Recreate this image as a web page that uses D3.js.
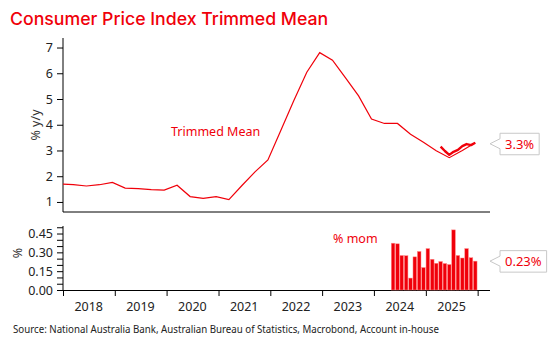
<!DOCTYPE html>
<html>
<head>
<meta charset="utf-8">
<script src="https://cdn.jsdelivr.net/npm/d3@7"></script>
<style>
  body { margin: 0; background: #fff; }
  svg text { font-family: "Noto Sans", sans-serif; }
</style>
</head>
<body>
<div id="viz"></div>
<script>
// Quarterly trimmed mean, % y/y (quarter ending month)
const quarters = ["2017-12","2018-03","2018-06","2018-09","2018-12","2019-03","2019-06","2019-09","2019-12",
  "2020-03","2020-06","2020-09","2020-12","2021-03","2021-06","2021-09","2021-12",
  "2022-03","2022-06","2022-09","2022-12","2023-03","2023-06","2023-09","2023-12",
  "2024-03","2024-06","2024-09","2024-12","2025-03","2025-06","2025-09","2025-12"];
const trimmedQ = [1.70,1.67,1.62,1.67,1.76,1.54,1.52,1.48,1.46,
  1.65,1.21,1.14,1.21,1.09,1.64,2.17,2.63,
  3.77,4.93,6.04,6.80,6.51,5.82,5.12,4.22,
  4.05,4.05,3.63,3.32,2.99,2.72,3.00,3.30];

// Monthly trimmed mean, % y/y
const months = ["2025-04","2025-05","2025-06","2025-07","2025-08","2025-09","2025-10","2025-11","2025-12"];
const trimmedM = [3.15,2.98,2.83,2.95,3.02,3.17,3.25,3.21,3.30];

// Monthly trimmed mean, % m/m
const momMonths = ["2024-05","2024-06","2024-07","2024-08","2024-09","2024-10","2024-11","2024-12",
  "2025-01","2025-02","2025-03","2025-04","2025-05","2025-06","2025-07","2025-08","2025-09","2025-10","2025-11","2025-12"];
const momValues = [0.373,0.368,0.275,0.273,0.095,0.264,0.307,0.179,
  0.330,0.245,0.213,0.227,0.211,0.203,0.479,0.275,0.255,0.330,0.257,0.23];

const years = [2018,2019,2020,2021,2022,2023,2024,2025];
const topTicks = [1,2,3,4,5,6,7];
const bottomTicks = [0,0.15,0.30,0.45];
const lastTop = "3.3%";
const lastBottom = "0.23%";

const RED = "#f0000a";
const parse = s => { const [y, m] = s.split("-").map(Number); return new Date(y, m - 1, 15); };

const W = 550, H = 350;
const svg = d3.select("#viz").append("svg")
  .attr("width", W).attr("height", H);

const x = d3.scaleTime()
  .domain([new Date(2018, 0, 1), new Date(2026, 2, 29)])
  .range([63, 490]);
const yTop = d3.scaleLinear().domain([0.61, 7.37]).range([212, 38]);
const yBot = d3.scaleLinear().domain([0, 0.51]).range([290, 226]);

// title
svg.append("text")
  .attr("x", 10).attr("y", 25)
  .style("font-family", "Inter, sans-serif")
  .style("font-weight", 500)
  .style("font-size", "17.7px")
  .attr("fill", RED)
  .text("Consumer Price Index Trimmed Mean");

// top panel axes
const gTop = svg.append("g").attr("transform", "translate(63,0)")
  .call(d3.axisLeft(yTop).tickValues(topTicks).tickSize(6).tickPadding(4).tickFormat(d3.format("d")));
gTop.select(".domain").remove();
gTop.selectAll("text").style("font-size", "12.5px").attr("fill", "#222");
gTop.selectAll("line").attr("stroke", "#000");
svg.append("line").attr("x1", 63).attr("x2", 63).attr("y1", 38).attr("y2", 212).attr("stroke", "#000");
svg.append("line").attr("x1", 63).attr("x2", 490).attr("y1", 212).attr("y2", 212).attr("stroke", "#000");

// bottom panel axes
const gBot = svg.append("g").attr("transform", "translate(63,0)")
  .call(d3.axisLeft(yBot).tickValues(d3.range(0, 0.51, 0.05)).tickSize(6).tickPadding(4)
    .tickFormat(d => bottomTicks.some(t => Math.abs(t - d) < 1e-6) ? d3.format(".2f")(d) : ""));
gBot.select(".domain").remove();
gBot.selectAll("text").style("font-size", "12.5px").attr("fill", "#222");
gBot.selectAll("line").attr("stroke", "#000");
svg.append("line").attr("x1", 63).attr("x2", 63).attr("y1", 226).attr("y2", 290).attr("stroke", "#000");

const gX = svg.append("g").attr("transform", "translate(0,290)")
  .call(d3.axisBottom(x).tickValues(years.concat([2026]).map(y => new Date(y, 0, 1))).tickSize(6).tickFormat(""));
gX.select(".domain").attr("d", "M63.5,0.5H490");
gX.selectAll("line").attr("stroke", "#000");
gX.selectAll(".yr").data(years).join("text")
  .attr("class", "yr")
  .attr("x", d => x(new Date(d, 6, 1)))
  .attr("y", 21)
  .attr("text-anchor", "middle")
  .style("font-size", "12.5px")
  .attr("fill", "#222")
  .text(d => d);

// axis titles
svg.append("text")
  .attr("transform", "translate(40,125) rotate(-90)")
  .attr("text-anchor", "middle")
  .style("font-size", "12.5px").attr("fill", "#333")
  .text("% y/y");
svg.append("text")
  .attr("transform", "translate(22,253) rotate(-90)")
  .attr("text-anchor", "middle")
  .style("font-size", "12.5px").attr("fill", "#333")
  .text("%");

// clip for lines
svg.append("clipPath").attr("id", "clipTop")
  .append("rect").attr("x", 63).attr("y", 30).attr("width", 430).attr("height", 182);

const line = d3.line().x(d => x(d.date)).y(d => yTop(d.v));
const qData = quarters.map((q, i) => ({date: parse(q), v: trimmedQ[i]}));
const mData = months.map((m, i) => ({date: parse(m), v: trimmedM[i]}));

svg.append("path").datum(qData)
  .attr("clip-path", "url(#clipTop)")
  .attr("d", line)
  .attr("fill", "none").attr("stroke", RED).attr("stroke-width", 1.2);
svg.append("path").datum(mData)
  .attr("d", line)
  .attr("fill", "none").attr("stroke", RED).attr("stroke-width", 2.4)
  .attr("stroke-linejoin", "round");

// bars
const bw = 3.6;
svg.append("g").selectAll("rect")
  .data(momMonths.map((m, i) => ({date: parse(m), v: momValues[i]})))
  .join("rect")
  .attr("x", d => x(d.date) - bw / 2)
  .attr("y", d => yBot(d.v))
  .attr("width", bw)
  .attr("height", d => yBot(0) - yBot(d.v))
  .attr("fill", RED)
  .attr("stroke", "#ff8a8a").attr("stroke-width", 0.5);

// series labels
svg.append("text").attr("x", 171).attr("y", 136)
  .style("font-size", "12.5px").attr("fill", RED).text("Trimmed Mean");
svg.append("text").attr("x", 333).attr("y", 243)
  .style("font-size", "12.5px").attr("fill", RED).text("% mom");

// callouts
function callout(yv, label) {
  const g = svg.append("g");
  const t = g.append("text")
    .attr("x", 505).attr("y", yv + 5)
    .style("font-size", "13px").attr("fill", RED).text(label);
  const w = t.node().getComputedTextLength();
  const l = 500, r = 505 + w + 5, top = yv - 10.5, bot = yv + 11;
  g.insert("path", "text")
    .attr("d", `M490,${yv}L${l},${yv - 5}V${top}H${r}V${bot}H${l}V${yv + 5}Z`)
    .attr("fill", "#fff").attr("stroke", "#c8c8c8").attr("stroke-width", 1);
}
callout(yTop(trimmedM[trimmedM.length - 1]) + 1, lastTop);
callout(yBot(momValues[momValues.length - 1]), lastBottom);

// source
svg.append("text").attr("x", 13).attr("y", 333)
  .style("font-size", "10px").attr("fill", "#222")
  .attr("textLength", 426).attr("lengthAdjust", "spacingAndGlyphs")
  .text("Source: National Australia Bank, Australian Bureau of Statistics, Macrobond, Account in-house");
</script>
</body>
</html>
